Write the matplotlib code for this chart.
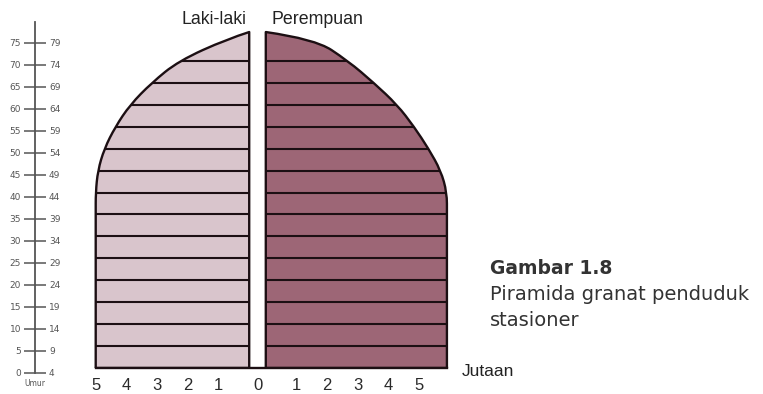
import matplotlib.pyplot as plt
from matplotlib.path import Path
from matplotlib.patches import PathPatch

# kelompok umur (batas bawah / batas atas) untuk penggaris umur
umur_bawah = [0, 5, 10, 15, 20, 25, 30, 35, 40, 45, 50, 55, 60, 65, 70, 75]
umur_atas = [4, 9, 14, 19, 24, 29, 34, 39, 44, 49, 54, 59, 64, 69, 74, 79]

# lebar piramida (juta jiwa) pada batas bawah tiap kelompok umur
laki_laki = [5.0, 5.0, 5.0, 5.0, 5.0, 5.0, 5.0, 5.0, 5.0,
             4.93, 4.72, 4.36, 3.88, 3.18, 2.3, 0.72]
perempuan = [5.9, 5.9, 5.9, 5.9, 5.9, 5.9, 5.9, 5.9, 5.9,
             5.7, 5.3, 4.83, 4.28, 3.52, 2.68, 1.6]
umur_puncak = 76.6

skala_x = [5, 4, 3, 2, 1, 0, 1, 2, 3, 4, 5]

GAP = 0.27  # setengah celah putih di tengah
WARNA_L = "#d9c5cc"
WARNA_P = "#9d6676"
GARIS = "#1c0f13"


def outline_path(lebar, sisi):
    """Path tertutup satu sisi piramida, tepi luar dihaluskan (kurva kuadrat)."""
    pts = [(sisi * (GAP + w), a) for w, a in zip(lebar, umur_bawah)]
    pts.append((sisi * GAP, umur_puncak))
    verts = [pts[0]]
    codes = [Path.MOVETO]
    for i in range(1, len(pts) - 2):
        mid = ((pts[i][0] + pts[i + 1][0]) / 2, (pts[i][1] + pts[i + 1][1]) / 2)
        verts += [pts[i], mid]
        codes += [Path.CURVE3, Path.CURVE3]
    verts += [pts[-2], pts[-1]]
    codes += [Path.CURVE3, Path.CURVE3]
    verts += [(sisi * GAP, 0), (0, 0)]
    codes += [Path.LINETO, Path.CLOSEPOLY]
    return Path(verts, codes)


fig = plt.figure(figsize=(7.63, 3.94), dpi=100)
W, H = 763, 394

# ---- piramida ----
ax = fig.add_axes([80 / W, (H - 368) / H, 380 / W, 348 / H])
ax.set_xlim((80 - 257.5) / 30.7, (460 - 257.5) / 30.7)
ax.set_ylim(0, 348 / 4.386)

for lebar, sisi, warna in [(laki_laki, -1, WARNA_L), (perempuan, 1, WARNA_P)]:
    path = outline_path(lebar, sisi)
    isi = PathPatch(path, facecolor=warna, edgecolor="none", zorder=1)
    ax.add_patch(isi)
    tepi_luar = max(lebar) + GAP + 0.5
    garis = ax.hlines(umur_bawah[1:-1], sisi * GAP, sisi * tepi_luar,
                      color=GARIS, lw=1.5, zorder=2)
    garis.set_clip_path(isi)
    ax.add_patch(PathPatch(path, facecolor="none", edgecolor=GARIS,
                           lw=1.7, joinstyle="round", zorder=3))

for s in ["top", "left", "right"]:
    ax.spines[s].set_visible(False)
ax.spines["bottom"].set_bounds(-(GAP + laki_laki[0]), GAP + perempuan[0])
ax.spines["bottom"].set_color(GARIS)
ax.spines["bottom"].set_linewidth(1.7)
ax.spines["bottom"].set_zorder(4)
ax.set_yticks([])

pos_label = [-(GAP + k) if i < 5 else (0 if i == 5 else GAP + k)
             for i, k in enumerate(skala_x)]
ax.set_xticks(pos_label)
ax.set_xticklabels([str(k) for k in skala_x], fontsize=12,
                   color="#2a2a2a", family="Liberation Sans")
ax.tick_params(axis="x", which="major", length=0, pad=7.5)
pos_tanda = [p for p, k in zip(pos_label, skala_x) if k != 0 and p > -(GAP + 4.5)]
ax.set_xticks(pos_tanda, minor=True)
ax.tick_params(axis="x", which="minor", direction="in", length=5,
               width=1.4, color=GARIS)

# judul sisi, sedikit di atas puncak
ax.text(-GAP - 0.1, umur_puncak + 2.9, "Laki-laki", ha="right", va="center",
        fontsize=12.8, color="#222", family="Liberation Sans", clip_on=False)
ax.text(GAP + 0.2, umur_puncak + 2.9, "Perempuan", ha="left", va="center",
        fontsize=12.8, color="#222", family="Liberation Sans", clip_on=False)

# ---- penggaris umur ----
ar = fig.add_axes([35 / W, (H - 373) / H, 0.0001, 351 / H])
ar.set_ylim(0, 351 / 4.4)
ar.set_xticks([])
for s in ["top", "right", "bottom"]:
    ar.spines[s].set_visible(False)
ar.spines["left"].set_color("#555")
ar.spines["left"].set_linewidth(1.3)
ar.set_yticks(umur_bawah)
ar.set_yticklabels([str(u) for u in umur_bawah], fontsize=6.5, color="#555")
ar.tick_params(axis="y", direction="out", length=8, width=1.1, color="#555", pad=2)

ar2 = ar.twinx()
ar2.set_ylim(ar.get_ylim())
for s in ar2.spines.values():
    s.set_visible(False)
ar2.set_yticks(umur_bawah)
ar2.set_yticklabels([str(u) for u in umur_atas], fontsize=6.5, color="#555")
ar2.tick_params(axis="y", direction="out", length=8, width=1.1, color="#555", pad=2)

fig.text(35 / W, 1 - 384 / H, "Umur", ha="center", va="center",
         fontsize=5.5, color="#555")

# ---- keterangan ----
fig.text(462 / W, 1 - 372 / H, "Jutaan", ha="left", va="center",
         fontsize=12.5, color="#222", family="Liberation Sans")
fig.text(490 / W, 1 - 268 / H, "Gambar 1.8", ha="left", va="center",
         fontsize=13.5, fontweight="bold", color="#333")
fig.text(490 / W, 1 - 294 / H, "Piramida granat penduduk", ha="left",
         va="center", fontsize=14, color="#333")
fig.text(490 / W, 1 - 320 / H, "stasioner", ha="left", va="center",
         fontsize=14, color="#333")

fig.savefig("out.png", dpi=100)
